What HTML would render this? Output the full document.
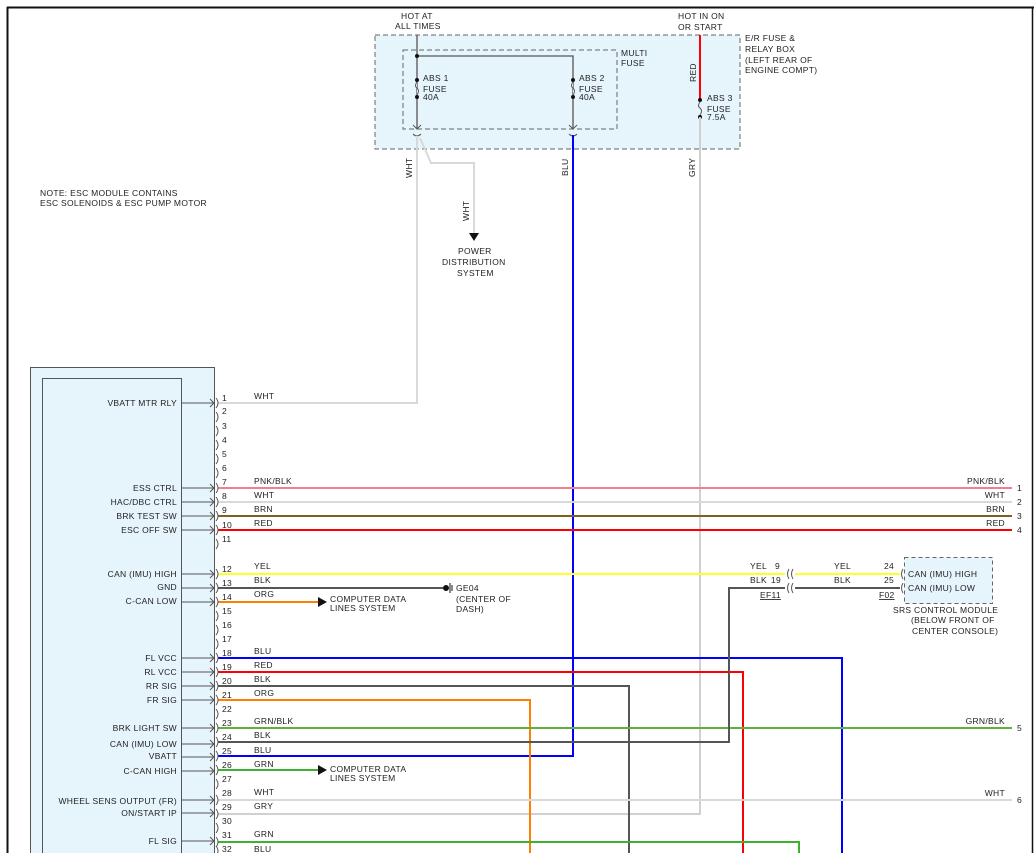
<!DOCTYPE html>
<html><head><meta charset="utf-8"><style>
html,body{margin:0;padding:0;background:#fff;width:1034px;height:853px;overflow:hidden}
svg text{font-family:"Liberation Sans",sans-serif;font-size:8.5px;fill:#222;letter-spacing:0.3px}
</style></head><body>
<svg width="1034" height="853" viewBox="0 0 1034 853" xmlns="http://www.w3.org/2000/svg">
<line x1="7" y1="7.5" x2="1034" y2="7.5" stroke="#111" stroke-width="2"/>
<line x1="7.5" y1="7" x2="7.5" y2="853" stroke="#111" stroke-width="2"/>
<line x1="1032.5" y1="7" x2="1032.5" y2="853" stroke="#111" stroke-width="1.5"/>

<rect x="375" y="35" width="365" height="114" fill="#e6f4fb" stroke="#666" stroke-dasharray="5,3"/>
<rect x="403" y="50" width="214" height="79" fill="none" stroke="#666" stroke-dasharray="5,3"/>
<text x="401" y="19">HOT AT</text><text x="395" y="29">ALL TIMES</text>
<text x="678" y="19">HOT IN ON</text><text x="678" y="30">OR START</text>
<text x="745" y="41">E/R FUSE &amp;</text><text x="745" y="52">RELAY BOX</text>
<text x="745" y="63">(LEFT REAR OF</text><text x="745" y="73">ENGINE COMPT)</text>
<text x="621" y="56">MULTI</text><text x="621" y="66">FUSE</text>
<polyline points="417,35 417,128" fill="none" stroke="#555" stroke-width="1.3"/>
<polyline points="417,56 573,56 573,128" fill="none" stroke="#555" stroke-width="1.3"/>
<circle cx="417" cy="56" r="2" fill="#111"/>
<circle cx="417" cy="80" r="2" fill="#111"/><circle cx="417" cy="97" r="2" fill="#111"/>
<circle cx="573" cy="80" r="2" fill="#111"/><circle cx="573" cy="97" r="2" fill="#111"/>
<path d="M417,82 q-3,4 0,6 q3,3 0,7" fill="#e6f4fb" stroke="#555"/>
<path d="M573,82 q-3,4 0,6 q3,3 0,7" fill="#e6f4fb" stroke="#555"/>
<text x="423" y="81">ABS 1</text><text x="423" y="92">FUSE</text><text x="423" y="100">40A</text>
<text x="579" y="81">ABS 2</text><text x="579" y="92">FUSE</text><text x="579" y="100">40A</text>
<path d="M413,125 l4,4 l4,-4 M413,134 q4,4 8,0" fill="none" stroke="#555"/>
<path d="M569,125 l4,4 l4,-4 M569,134 q4,4 8,0" fill="none" stroke="#555"/>
<line x1="700" y1="35" x2="700" y2="100" stroke="#ff0000" stroke-width="2"/>
<circle cx="700" cy="100" r="2" fill="#111"/><circle cx="700" cy="117" r="2" fill="#111"/>
<path d="M700,102 q-3,4 0,6 q3,3 0,7" fill="#e6f4fb" stroke="#555"/>
<text x="707" y="101">ABS 3</text><text x="707" y="112">FUSE</text><text x="707" y="120">7.5A</text>
<text transform="translate(696,82) rotate(-90)">RED</text>

<polyline points="700,117 700,814 218,814" fill="none" stroke="#d0d0d0" stroke-width="2"/>
<polyline points="573,135 573,756 218,756" fill="none" stroke="#0000ff" stroke-width="2"/>
<polyline points="417,136 417,403 218,403" fill="none" stroke="#d9d9d9" stroke-width="2"/>
<polyline points="420,138 431,163 474,163 474,235" fill="none" stroke="#d9d9d9" stroke-width="2"/>
<path d="M469,233 l5,8 l5,-8z" fill="#111"/>
<text transform="translate(412,178) rotate(-90)">WHT</text>
<text transform="translate(568,176) rotate(-90)">BLU</text>
<text transform="translate(695,177) rotate(-90)">GRY</text>
<text transform="translate(469,221) rotate(-90)">WHT</text>
<text x="458" y="254">POWER</text><text x="442" y="265">DISTRIBUTION</text><text x="457" y="276">SYSTEM</text>

<text x="40" y="196">NOTE: ESC MODULE CONTAINS</text>
<text x="40" y="206">ESC SOLENOIDS &amp; ESC PUMP MOTOR</text>

<rect x="30.5" y="367.5" width="184" height="490" fill="#e6f4fb" stroke="#555"/>
<rect x="42.5" y="378.5" width="139" height="480" fill="#e6f4fb" stroke="#555"/>

<g fill="none" stroke-width="2">
<line x1="218" y1="488" x2="1012" y2="488" stroke="#f08090"/>
<line x1="218" y1="502" x2="1012" y2="502" stroke="#d9d9d9"/>
<line x1="218" y1="516" x2="1012" y2="516" stroke="#806020"/>
<line x1="218" y1="530" x2="1012" y2="530" stroke="#ff0000"/>
<line x1="218" y1="574" x2="785" y2="574" stroke="#ffff30"/>
<line x1="795" y1="574" x2="900" y2="574" stroke="#ffff30"/>
<line x1="218" y1="588" x2="443" y2="588" stroke="#555"/>
<line x1="218" y1="602" x2="318" y2="602" stroke="#ff8000"/>
<polyline points="218,658 842,658 842,853" stroke="#0000ff"/>
<polyline points="218,672 743,672 743,853" stroke="#ff0000"/>
<polyline points="218,686 629,686 629,853" stroke="#555"/>
<polyline points="218,700 530,700 530,853" stroke="#ff8000"/>
<line x1="218" y1="728" x2="1012" y2="728" stroke="#60b040"/>
<polyline points="218,742 729,742 729,588 785,588" stroke="#555"/>
<line x1="795" y1="588" x2="900" y2="588" stroke="#555"/>
<line x1="218" y1="770" x2="318" y2="770" stroke="#40b030"/>
<line x1="218" y1="800" x2="1012" y2="800" stroke="#d9d9d9"/>
<polyline points="218,842 799,842 799,853" stroke="#40b030"/>
</g>
<path d="M318,597 l9,5 l-9,5z" fill="#111"/><path d="M318,765 l9,5 l-9,5z" fill="#111"/>
<circle cx="446" cy="588" r="3" fill="#111"/><line x1="450" y1="583" x2="450" y2="593" stroke="#111"/><line x1="452" y1="585" x2="452" y2="591" stroke="#111"/>
<text x="456" y="591">GE04</text><text x="456" y="602">(CENTER OF</text><text x="456" y="612">DASH)</text>
<text x="330" y="602">COMPUTER DATA</text><text x="330" y="611">LINES SYSTEM</text>
<text x="330" y="772">COMPUTER DATA</text><text x="330" y="781">LINES SYSTEM</text>

<g fill="none" stroke="#555">
<path d="M789,569 q-3,5 0,10 M793,569 q-3,5 0,10 M789,583 q-3,5 0,10 M793,583 q-3,5 0,10"/>
<path d="M903,569 q-3,5 0,10 M903,583 q-3,5 0,10"/>
</g>
<text x="750" y="569">YEL</text><text x="775" y="569">9</text>
<text x="750" y="583">BLK</text><text x="771" y="583">19</text>
<text x="760" y="598" text-decoration="underline">EF11</text>
<text x="834" y="569">YEL</text><text x="884" y="569">24</text>
<text x="834" y="583">BLK</text><text x="884" y="583">25</text>
<text x="879" y="598" text-decoration="underline">F02</text>
<rect x="904.5" y="557.5" width="88" height="46" fill="#e6f4fb" stroke="#666" stroke-dasharray="4,3"/>
<text x="908" y="577">CAN (IMU) HIGH</text><text x="908" y="591">CAN (IMU) LOW</text>
<text x="893" y="613">SRS CONTROL MODULE</text><text x="911" y="623">(BELOW FRONT OF</text><text x="912" y="634">CENTER CONSOLE)</text>

<g text-anchor="end">
<text x="1005" y="484">PNK/BLK</text><text x="1005" y="498">WHT</text><text x="1005" y="512">BRN</text><text x="1005" y="526">RED</text>
<text x="1005" y="724">GRN/BLK</text><text x="1005" y="796">WHT</text>
</g>
<text x="1017" y="491">1</text><text x="1017" y="505">2</text><text x="1017" y="519">3</text><text x="1017" y="533">4</text>
<text x="1017" y="731">5</text><text x="1017" y="803">6</text>

<g stroke="#555" fill="none">
<line x1="181" y1="403" x2="214" y2="403"/><line x1="181" y1="488" x2="214" y2="488"/><line x1="181" y1="502" x2="214" y2="502"/><line x1="181" y1="516" x2="214" y2="516"/><line x1="181" y1="530" x2="214" y2="530"/>
<line x1="181" y1="574" x2="214" y2="574"/><line x1="181" y1="588" x2="214" y2="588"/><line x1="181" y1="602" x2="214" y2="602"/>
<line x1="181" y1="658" x2="214" y2="658"/><line x1="181" y1="672" x2="214" y2="672"/><line x1="181" y1="686" x2="214" y2="686"/><line x1="181" y1="700" x2="214" y2="700"/>
<line x1="181" y1="728" x2="214" y2="728"/><line x1="181" y1="744" x2="214" y2="744"/><line x1="181" y1="757" x2="214" y2="757"/><line x1="181" y1="771" x2="214" y2="771"/>
<line x1="181" y1="800" x2="214" y2="800"/><line x1="181" y1="813" x2="214" y2="813"/><line x1="181" y1="841" x2="214" y2="841"/>
<path d="M210,399 l4,4 l-4,4 M210,484 l4,4 l-4,4 M210,498 l4,4 l-4,4 M210,512 l4,4 l-4,4 M210,526 l4,4 l-4,4 M210,570 l4,4 l-4,4 M210,584 l4,4 l-4,4 M210,598 l4,4 l-4,4 M210,654 l4,4 l-4,4 M210,668 l4,4 l-4,4 M210,682 l4,4 l-4,4 M210,696 l4,4 l-4,4 M210,724 l4,4 l-4,4 M210,740 l4,4 l-4,4 M210,753 l4,4 l-4,4 M210,767 l4,4 l-4,4 M210,796 l4,4 l-4,4 M210,809 l4,4 l-4,4 M210,837 l4,4 l-4,4"/>
<path d="M216,398 q4,5 0,10 M216,412 q4,5 0,10 M216,426 q4,5 0,10 M216,440 q4,5 0,10 M216,454 q4,5 0,10 M216,468 q4,5 0,10 M216,483 q4,5 0,10 M216,497 q4,5 0,10 M216,511 q4,5 0,10 M216,525 q4,5 0,10 M216,539 q4,5 0,10 M216,569 q4,5 0,10 M216,583 q4,5 0,10 M216,597 q4,5 0,10 M216,611 q4,5 0,10 M216,625 q4,5 0,10 M216,639 q4,5 0,10 M216,653 q4,5 0,10 M216,667 q4,5 0,10 M216,681 q4,5 0,10 M216,695 q4,5 0,10 M216,709 q4,5 0,10 M216,723 q4,5 0,10 M216,737 q4,5 0,10 M216,751 q4,5 0,10 M216,765 q4,5 0,10 M216,779 q4,5 0,10 M216,795 q4,5 0,10 M216,809 q4,5 0,10 M216,823 q4,5 0,10 M216,837 q4,5 0,10 M216,846 q4,5 0,10"/>
</g>
<g text-anchor="end">
<text x="177" y="406">VBATT MTR RLY</text><text x="177" y="491">ESS CTRL</text><text x="177" y="505">HAC/DBC CTRL</text><text x="177" y="519">BRK TEST SW</text><text x="177" y="533">ESC OFF SW</text>
<text x="177" y="577">CAN (IMU) HIGH</text><text x="177" y="590">GND</text><text x="177" y="604">C-CAN LOW</text>
<text x="177" y="661">FL VCC</text><text x="177" y="675">RL VCC</text><text x="177" y="689">RR SIG</text><text x="177" y="703">FR SIG</text>
<text x="177" y="731">BRK LIGHT SW</text><text x="177" y="747">CAN (IMU) LOW</text><text x="177" y="759">VBATT</text><text x="177" y="774">C-CAN HIGH</text>
<text x="177" y="804">WHEEL SENS OUTPUT (FR)</text><text x="177" y="816">ON/START IP</text><text x="177" y="844">FL SIG</text>
</g>
<g>
<text x="222" y="401">1</text><text x="222" y="414">2</text><text x="222" y="429">3</text><text x="222" y="443">4</text><text x="222" y="457">5</text><text x="222" y="471">6</text><text x="222" y="485">7</text><text x="222" y="499">8</text><text x="222" y="513">9</text><text x="222" y="528">10</text><text x="222" y="542">11</text>
<text x="222" y="572">12</text><text x="222" y="586">13</text><text x="222" y="600">14</text><text x="222" y="614">15</text><text x="222" y="628">16</text><text x="222" y="642">17</text><text x="222" y="656">18</text><text x="222" y="670">19</text><text x="222" y="684">20</text><text x="222" y="698">21</text><text x="222" y="712">22</text><text x="222" y="726">23</text><text x="222" y="740">24</text><text x="222" y="754">25</text><text x="222" y="768">26</text><text x="222" y="782">27</text><text x="222" y="796">28</text><text x="222" y="810">29</text><text x="222" y="824">30</text><text x="222" y="838">31</text><text x="222" y="852">32</text>
<text x="254" y="399">WHT</text><text x="254" y="484">PNK/BLK</text><text x="254" y="498">WHT</text><text x="254" y="512">BRN</text><text x="254" y="526">RED</text>
<text x="254" y="569">YEL</text><text x="254" y="583">BLK</text><text x="254" y="597">ORG</text>
<text x="254" y="654">BLU</text><text x="254" y="668">RED</text><text x="254" y="682">BLK</text><text x="254" y="696">ORG</text>
<text x="254" y="724">GRN/BLK</text><text x="254" y="738">BLK</text><text x="254" y="753">BLU</text><text x="254" y="767">GRN</text>
<text x="254" y="795">WHT</text><text x="254" y="809">GRY</text><text x="254" y="837">GRN</text><text x="254" y="852">BLU</text>
</g>
</svg>
</body></html>
